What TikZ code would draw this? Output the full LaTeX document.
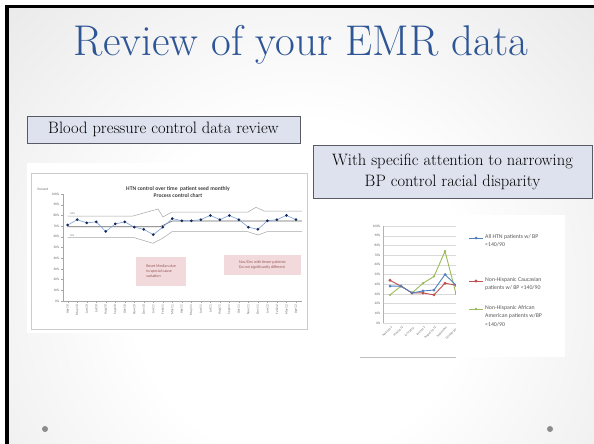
\documentclass[tikz,border=0pt]{standalone}
\usepackage{fontspec}
\newfontfamily\chartfont{Carlito}
\usetikzlibrary{shapes.geometric}
\definecolor{bgedge}{RGB}{196,196,196}
\definecolor{titleblue}{RGB}{46,86,150}
\definecolor{boxfill}{RGB}{222,226,238}
\definecolor{boxline}{RGB}{90,90,100}
\definecolor{pinkfill}{RGB}{242,218,220}
\definecolor{pinktext}{RGB}{150,85,85}
\definecolor{ptnavy}{RGB}{25,40,90}
\definecolor{ptline}{RGB}{120,160,215}
\definecolor{sblue}{RGB}{79,129,189}
\definecolor{sred}{RGB}{192,80,77}
\definecolor{sgreen}{RGB}{155,187,89}
\pgfdeclareradialshading{slidebg}{\pgfpoint{0bp}{0bp}}{color(0bp)=(white); color(10bp)=(white); color(50bp)=(bgedge)}
\begin{document}
\begin{tikzpicture}[x=1pt,y=-1pt,
  titlestyle/.style={font=\fontsize{43}{48}\selectfont, text=titleblue, anchor=base, inner sep=0pt},
  boxstyle/.style={draw=boxline, fill=boxfill, line width=0.7pt, font=\fontsize{16.5}{21}\selectfont, inner sep=2pt, align=center},
  chartlbl/.style={font=\chartfont\fontsize{3.4}{4}\selectfont, text=black!60, inner sep=0.4pt},
  smalllbl/.style={font=\chartfont\fontsize{3}{3.5}\selectfont, text=black!60, inner sep=0.2pt},
  charttitle/.style={font=\chartfont\bfseries\fontsize{5.6}{7}\selectfont, text=black!75, inner sep=0pt, align=center},
  pinkbox/.style={fill=pinkfill, font=\chartfont\fontsize{4}{5.2}\selectfont, text=pinktext, align=left, anchor=north west, inner sep=3pt},
  legtext/.style={font=\chartfont\fontsize{5.8}{8.6}\selectfont, text=black!65, align=left, anchor=north west, inner sep=0pt},
  limitline/.style={gray!70, line width=0.5pt},
  slidedot/.style={fill=gray!90}]
\useasboundingbox (0,0) rectangle (594,444);
\fill[white] (0,0) rectangle (594,444);
\fill[black] (5,5) rectangle (594,444);
\begin{scope}
  \clip (9,9) rectangle (594,444);
  \shade[shading=slidebg] (300,290) circle (420pt);
\end{scope}

% title
\node[titlestyle] (title) at (301,56) {Review of your EMR data};

% text boxes
\node[boxstyle, minimum width=273pt, minimum height=27pt] (box1) at (163.5,129.5) {Blood pressure control data review};
\node[boxstyle, minimum width=279pt, minimum height=53pt] (box2) at (452.5,171.5) {With specific attention to narrowing\\BP control racial disparity};

% ---------- chart 1 ----------
\fill[white] (27,163) rectangle (310,333);
\draw[gray!40, line width=0.8pt] (31,173) rectangle (307,329);
\node[chartlbl] (percent) at (43,189) {Percent};
\node[charttitle] (c1title) at (178,192.5) {HTN control over time \ patient seed monthly\\Process control chart};
\draw[gray!70, line width=0.4pt] (63,194) -- (63,301) -- (302,301);
\foreach \v in {0,10,...,100} {
  \draw[gray!70, line width=0.3pt] (61,{301-1.07*\v}) -- (63,{301-1.07*\v});
  \node[chartlbl, anchor=east] (yl\v) at (60,{301-1.07*\v}) {\v\%};
}
% control limits and median
\draw[limitline] (67.7,216) -- (133,216) -- (158,209) -- (163,217) -- (172,212) -- (248,212) -- (256,207.3) -- (264,211) -- (302,211);
\draw[limitline] (67.7,237.3) -- (133,237.3) -- (153,243.3) -- (163,238) -- (172,231.7) -- (248,231.7) -- (258,235) -- (267,231.7) -- (302,231.7);
\draw[gray!80!black, line width=0.6pt] (67.7,226.7) -- (160,226.7) -- (172.3,221) -- (302,221);
\node[chartlbl, anchor=west, font=\chartfont\fontsize{2.8}{3}\selectfont] (ucl) at (70,214) {UCL};
\node[chartlbl, anchor=west, font=\chartfont\fontsize{2.8}{3}\selectfont] (lcl) at (70,235.3) {LCL};
% data
\foreach \v [count=\i from 0] in {71,76,73,74,65,72,74,69,67,62,69,77,75,75,76,80,76,80,76,69,67,75,76,80,76} {
  \coordinate (p\i) at ({67.7+9.51*\i},{301-1.07*\v});
}
\draw[ptline, line width=0.6pt] (p0) \foreach \i in {1,...,24} { -- (p\i) };
\foreach \i in {0,...,24} { \fill[ptnavy] (p\i) circle (1.5pt); }
\foreach \m [count=\i from 0] in {Apr-10,May-10,Jun-10,Jul-10,Aug-10,Sep-10,Oct-10,Nov-10,Dec-10,Jan-11,Feb-11,Mar-11,Apr-11,May-11,Jun-11,Jul-11,Aug-11,Sep-11,Oct-11,Nov-11,Dec-11,Jan-12,Feb-12,Mar-12,Apr-12} {
  \draw[gray!70, line width=0.3pt] ({67.7+9.51*\i},301) -- ({67.7+9.51*\i},302.5);
  \node[chartlbl, rotate=90, anchor=east] (xl\i) at ({67.7+9.51*\i},304) {\m};
}
\node[pinkbox, minimum width=49.7pt, minimum height=29pt] (note1) at (136,256.7) {Reset Median due\\to special cause\\variation};
\node[pinkbox, minimum width=77.7pt, minimum height=20pt] (note2) at (223.3,255) {Nov/Dec with fewer patients\\Do not significantly different};

% ---------- chart 2 ----------
\fill[white] (360,215) rectangle (456,358);
\foreach \v in {0,10,...,100} {
  \draw[gray!30, line width=0.4pt] (383,{323-0.97*\v}) -- (456,{323-0.97*\v});
  \node[chartlbl, anchor=east] (zl\v) at (381,{323-0.97*\v}) {\v\%};
}
\draw[gray!60, line width=0.4pt] (383,226) -- (383,323);
\draw[gray!50, line width=0.5pt] (360,357) -- (456,357);
\foreach \b [count=\i from 0] in {38,38,31,33,34,50,39} { \coordinate (b\i) at ({390+11*\i},{323-0.97*\b}); }
\foreach \r [count=\i from 0] in {44,38,31,31,29,41,39} { \coordinate (r\i) at ({390+11*\i},{323-0.97*\r}); }
\foreach \g [count=\i from 0] in {29,38,31,41,48,74,30} { \coordinate (g\i) at ({390+11*\i},{323-0.97*\g}); }
\draw[sgreen, line width=0.9pt] (g0) \foreach \i in {1,...,6} { -- (g\i) };
\draw[sred, line width=0.9pt] (r0) \foreach \i in {1,...,6} { -- (r\i) };
\draw[sblue, line width=0.9pt] (b0) \foreach \i in {1,...,6} { -- (b\i) };
\foreach \i in {0,...,6} {
  \fill[sgreen] (g\i) circle (1.3pt);
  \fill[sred] (r\i) circle (1.6pt);
  \fill[sblue] (b\i) circle (1.5pt);
}
\foreach \m [count=\i from 0] in {April 2012,May 2012,June 2012,July 2012,August 2012,September,October 2012} {
  \node[smalllbl, rotate=45, anchor=east] (zx\i) at ({392+11*\i},327) {\m};
}
% legend
\fill[white] (456,215) rectangle (565,357);
\draw[sblue, line width=0.9pt] (469,238) coordinate (l1a) -- (483,238) coordinate (l1b);
\fill[sblue] (476,238) circle (1.5pt);
\node[legtext] (leg1) at (485,234) {All HTN patients w/ BP\\<140/90};
\draw[sred, line width=0.9pt] (469,281) coordinate (l2a) -- (483,281) coordinate (l2b);
\fill[sred] (476,281) circle (1.6pt);
\node[legtext] (leg2) at (485,277) {Non-Hispanic Caucasian\\patients w/ BP <140/90};
\draw[sgreen, line width=0.9pt] (469,309) coordinate (l3a) -- (483,309) coordinate (l3b);
\fill[sgreen] (476,309) circle (1.3pt);
\node[legtext] (leg3) at (485,305) {Non-Hispanic African\\American patients w/BP\\<140/90};

% slide dots
\fill[slidedot] (45,429) circle (3pt);
\fill[slidedot] (550,429) circle (3pt);
\end{tikzpicture}
\end{document}
